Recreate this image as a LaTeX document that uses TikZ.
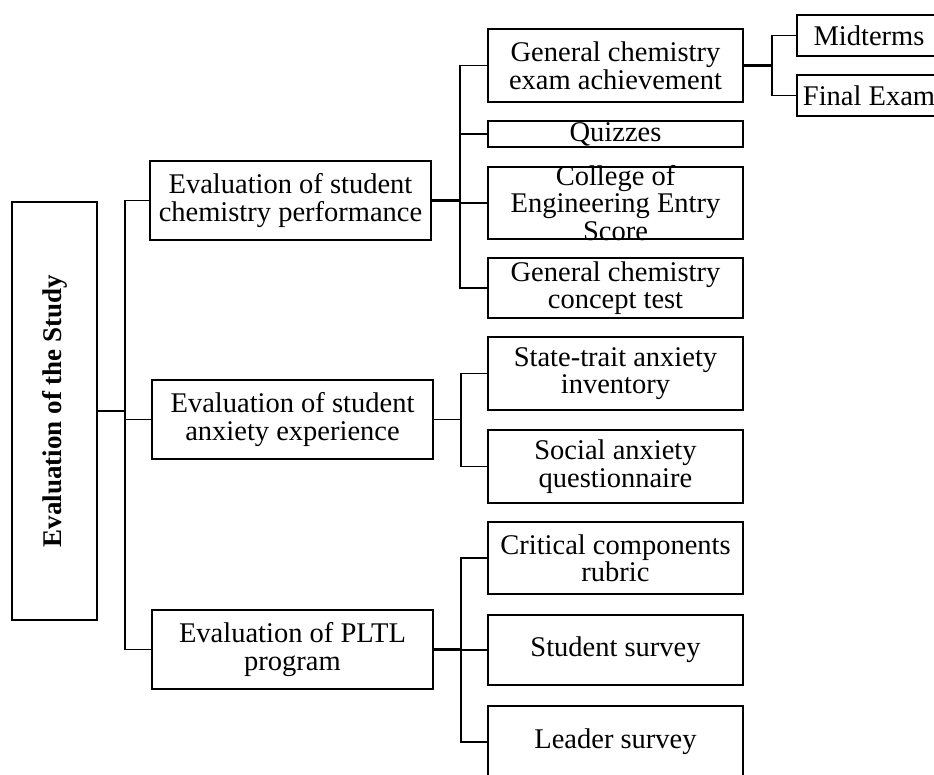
\documentclass[tikz,border=0pt]{standalone}
\usepackage{fontspec}
\setmainfont{Liberation Serif}
\usetikzlibrary{calc}

\tikzset{
	box/.style={draw, line width=2pt, inner sep=0pt},
	leaf/.style={box, minimum width=255pt},
	branch/.style={box, minimum width=281pt, minimum height=79pt},
	txt/.style={inner sep=0pt, align=center, font=\fontsize{28.5}{27.5}\selectfont},
	link/.style={line width=1.6pt},
	stem/.style={line width=2.4pt}
}

\begin{document}
\begin{tikzpicture}[x=1pt, y=-1pt]
		\clip (0,0) rectangle (934,774);
		% boxes
		\node[box, minimum width=85pt, minimum height=418pt] (root) at (54.5,411) {};
		\node[branch] (perf) at (290.5,200.5) {};
		\node[branch] (anx) at (292.5,419.5) {};
		\node[branch] (pltl) at (292.5,649.5) {};
		\node[leaf, minimum height=73pt] (exam) at (615.5,65.5) {};
		\node[leaf, minimum height=26pt] (quiz) at (615.5,134) {};
		\node[leaf, minimum height=72pt] (ces) at (615.5,203) {};
		\node[leaf, minimum height=60pt] (gcct) at (615.5,288) {};
		\node[leaf, minimum height=73pt] (stai) at (615.5,373.5) {};
		\node[leaf, minimum height=73pt] (saq) at (615.5,466.5) {};
		\node[leaf, minimum height=72pt] (ccr) at (615.5,558) {};
		\node[leaf, minimum height=70pt] (ss) at (615.5,650) {};
		\node[leaf, minimum height=72pt] (ls) at (615.5,742) {};
		\node[box, minimum width=144pt, minimum height=41pt] (mid) at (869,35.5) {};
		\node[box, minimum width=144pt, minimum height=41pt] (fin) at (869,95.5) {};
		% texts
		\node[txt, rotate=90, font=\fontsize{27}{28}\selectfont\bfseries] (root-t) at (root) {Evaluation of the Study};
		\node[txt] (perf-t) at (perf) {Evaluation of student\\chemistry performance};
		\node[txt] (anx-t) at (anx) {Evaluation of student\\anxiety experience};
		\node[txt] (pltl-t) at (pltl) {Evaluation of PLTL\\program};
		\node[txt] (exam-t) at (exam) {General chemistry\\exam achievement};
		\node[txt] (quiz-t) at (quiz) {Quizzes};
		\node[txt] (ces-t) at (ces) {College of\\Engineering Entry\\Score};
		\node[txt] (gcct-t) at (gcct) {General chemistry\\concept test};
		\node[txt] (stai-t) at (stai) {State-trait anxiety\\inventory};
		\node[txt] (saq-t) at (saq) {Social anxiety\\questionnaire};
		\node[txt] (ccr-t) at (ccr) {Critical components\\rubric};
		\node[txt] (ss-t) at (ss) {Student survey};
		\node[txt] (ls-t) at (ls) {Leader survey};
		\node[txt] (mid-t) at (mid) {Midterms};
		\node[txt] (fin-t) at (fin) {Final Exam};
		% junctions
		\coordinate (jroot) at ($(root.east)+(27,0)$);
		\coordinate (jperf) at ($(perf.east)+(28,0)$);
		\coordinate (janx) at ($(anx.east)+(27,0)$);
		\coordinate (jpltl) at ($(pltl.east)+(27,0)$);
		\coordinate (jexam) at ($(exam.east)+(28,0)$);
		% connectors
		\draw[stem] (root.east) -- (jroot);
		\draw[link] (jroot) |- (perf.west);
		\draw[link] (jroot) |- (anx.west);
		\draw[link] (jroot) |- (pltl.west);
		\draw[stem] (perf.east) -- (jperf);
		\draw[link] (jperf) |- (exam.west);
		\draw[link] (jperf) |- (quiz.west);
		\draw[link] (jperf) |- (ces.west);
		\draw[link] (jperf) |- (gcct.west);
		\draw[link] (anx.east) -- (janx);
		\draw[link] (janx) |- (stai.west);
		\draw[link] (janx) |- (saq.west);
		\draw[stem] (pltl.east) -- (jpltl);
		\draw[link] (jpltl) |- (ccr.west);
		\draw[link] (jpltl) |- (ss.west);
		\draw[link] (jpltl) |- (ls.west);
		\draw[stem] (exam.east) -- (jexam);
		\draw[link] (jexam) |- (mid.west);
		\draw[link] (jexam) |- (fin.west);
	\end{tikzpicture}
\end{document}
